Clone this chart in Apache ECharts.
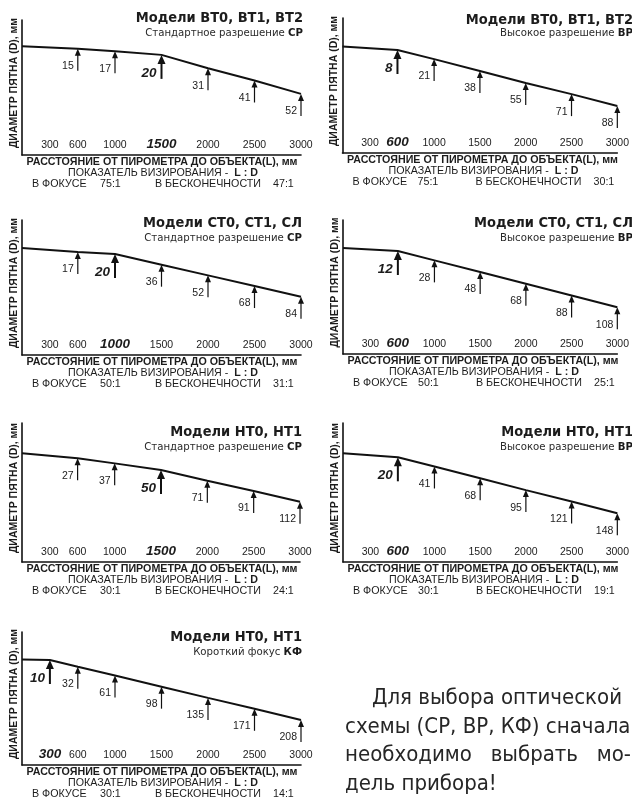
<!DOCTYPE html>
<html><head><meta charset="utf-8">
<script src="https://cdn.jsdelivr.net/npm/echarts@6/dist/echarts.min.js"></script>
<style>html,body{margin:0;padding:0;background:#fff}#c{width:632px;height:804px}</style>
</head><body><div id="c"></div>
<script>
// ---- data ----
const tickDistances = [300, 600, 1000, 1500, 2000, 2500, 3000];
const distStd = [600, 1000, 1500, 2000, 2500, 3000];
const distKF = [300, 600, 1000, 1500, 2000, 2500, 3000];
const diamBT_SP = [15, 17, 20, 31, 41, 52];
const diamBT_VR = [8, 21, 38, 55, 71, 88];
const diamCT_SP = [17, 20, 36, 52, 68, 84];
const diamCT_VR = [12, 28, 48, 68, 88, 108];
const diamHT_SP = [27, 37, 50, 71, 91, 112];
const diamHT_VR = [20, 41, 68, 95, 121, 148];
const diamHT_KF = [10, 32, 61, 98, 135, 171, 208];
const startDiam = [13, 3, 11, 7, 17, 11, 8];      // line start at L = 0 (estimated)
const focusDist = [1500, 600, 1000, 600, 1500, 600, 300];
const ratioFocus = ['75:1', '75:1', '50:1', '50:1', '30:1', '30:1', '30:1'];
const ratioInf = ['47:1', '30:1', '31:1', '25:1', '24:1', '19:1', '14:1'];
const modelTitles = ['Модели ВТ0, ВТ1, ВТ2', 'Модели ВТ0, ВТ1, ВТ2', 'Модели СТ0, СТ1, СЛ', 'Модели СТ0, СТ1, СЛ', 'Модели НТ0, НТ1', 'Модели НТ0, НТ1', 'Модели НТ0, НТ1'];
const modeNames = ['Стандартное разрешение', 'Высокое разрешение', 'Стандартное разрешение', 'Высокое разрешение', 'Стандартное разрешение', 'Высокое разрешение', 'Короткий фокус'];
const modeCodes = ['СР', 'ВР', 'СР', 'ВР', 'СР', 'ВР', 'КФ'];
const panelDist = [distStd, distStd, distStd, distStd, distStd, distStd, distKF];
const panelDiam = [diamBT_SP, diamBT_VR, diamCT_SP, diamCT_VR, diamHT_SP, diamHT_VR, diamHT_KF];
const noteLines = ['Для выбора оптической', 'схемы (СР, ВР, КФ) сначала', ['необходимо', 'выбрать', 'мо-'], 'дель прибора!'];

// ---- layout ----
const layout = [
  {left: 22, right: 331, top: 20, axisY: 155, yMin: -8.6, yMax: 102.1, titleX: 303, titleY: 18, subY: 33, col: 0},
  {left: 342.5, right: 12, top: 18, axisY: 153, yMin: -37.7, yMax: 155.1, titleX: 633, titleY: 20, subY: 33, col: 1},
  {left: 22, right: 331, top: 220, axisY: 355, yMin: -31, yMax: 171.4, titleX: 302, titleY: 223, subY: 238, col: 0},
  {left: 343, right: 12, top: 220, axisY: 354, yMin: -40.9, yMax: 187.8, titleX: 633, titleY: 223, subY: 238, col: 1},
  {left: 22, right: 332, top: 423, axisY: 562, yMin: -42, yMax: 230, titleX: 302, titleY: 432, subY: 447, col: 0},
  {left: 343, right: 12, top: 423, axisY: 562, yMin: -58.4, yMax: 259.3, titleX: 633, titleY: 432, subY: 447, col: 1},
  {left: 22, right: 331, top: 632, axisY: 765, yMin: -82.4, yMax: 356.5, titleX: 302, titleY: 637, subY: 652, col: 0}
];
const SANS = '"Liberation Sans", Arial, sans-serif';
const COND = '"DejaVu Sans Condensed", "Liberation Sans Narrow", "DejaVu Sans", sans-serif';
const INK = '#1c1c1c';

const grid = [], xAxis = [], yAxis = [], series = [], graphic = [];

function txt(x, y, text, font, align, extra) {
  const o = {type: 'text', x: x, y: y, silent: true,
    style: Object.assign({text: text, font: font, fill: INK, textAlign: align || 'left', align: align || 'left',
      textVerticalAlign: 'middle', verticalAlign: 'middle'}, extra || {})};
  return o;
}

function renderArrow(params, api) {
  const d = api.value(1), f = api.value(2);
  const p = api.coord([api.value(0), d]);
  const px = p[0], py = p[1];
  const len = f ? 24 : 22, hh = f ? 9 : 7, hw = f ? 4 : 3;
  return {type: 'group', children: [
    {type: 'line', shape: {x1: px, y1: py + hh - 1, x2: px, y2: py + len}, style: {stroke: '#111', lineWidth: f ? 2 : 1.2}},
    {type: 'polygon', shape: {points: [[px, py], [px - hw, py + hh], [px + hw, py + hh]]}, style: {fill: '#111'}},
    {type: 'text', x: px - (f ? 5 : 4), y: py + len + 1, style: {text: String(d),
      font: f ? 'italic bold 13.5px ' + SANS : '10.5px ' + SANS, fill: INK,
      textAlign: 'right', align: 'right', textVerticalAlign: 'bottom', verticalAlign: 'bottom'}}
  ]};
}

layout.forEach(function (L, i) {
  const focus = focusDist[i];
  grid.push({left: L.left, right: L.right, top: L.top, bottom: 804 - L.axisY, containLabel: false});
  xAxis.push({type: 'value', gridIndex: i, min: 0, max: 3000,
    axisLine: {show: true, onZero: false, lineStyle: {color: '#111', width: 1.6}},
    axisTick: {show: false}, splitLine: {show: false},
    axisLabel: {inside: true, margin: 4, customValues: tickDistances, color: INK, fontSize: 10.5, fontFamily: SANS,
      formatter: function (v) { return v === focus ? '{f|' + v + '}' : String(v); },
      rich: {f: {fontSize: 13.5, fontWeight: 'bold', fontStyle: 'italic', fontFamily: SANS, color: INK}}}
  });
  yAxis.push({type: 'value', gridIndex: i, inverse: true, min: L.yMin, max: L.yMax,
    axisLine: {show: true, onZero: false, lineStyle: {color: '#111', width: 1.6}},
    axisTick: {show: false}, splitLine: {show: false}, axisLabel: {show: false}});
  const dist = panelDist[i], diam = panelDiam[i];
  const lineData = [[0, startDiam[i]]].concat(dist.map(function (x, k) { return [x, diam[k]]; }));
  series.push({type: 'line', xAxisIndex: i, yAxisIndex: i, data: lineData, symbol: 'none', silent: true,
    lineStyle: {color: '#111', width: 2}, z: 3});
  series.push({type: 'custom', xAxisIndex: i, yAxisIndex: i, silent: true, z: 4, renderItem: renderArrow,
    data: dist.map(function (x, k) { return [x, diam[k], x === focus ? 1 : 0]; })});

  // texts
  graphic.push(txt(L.titleX, L.titleY, modelTitles[i], 'bold 14.5px ' + COND, 'right'));
  graphic.push(txt(L.titleX, L.subY, modeNames[i] + ' {b|' + modeCodes[i] + '}', '11.3px ' + COND, 'right',
    {fill: '#2a2a2a', rich: {b: {fontWeight: 'bold', fontSize: 11.3, fontFamily: COND, fill: '#1a1a1a', color: '#1a1a1a'}}}));
  graphic.push(Object.assign(txt(L.left - 8, (L.top + L.axisY) / 2 - 4.5, 'ДИАМЕТР ПЯТНА (D), мм', 'bold 10.5px ' + SANS, 'center'),
    {rotation: Math.PI / 2}));
  graphic.push(txt(L.left + 140, L.axisY + 7.5, 'РАССТОЯНИЕ ОТ ПИРОМЕТРА ДО ОБЪЕКТА(L), мм', 'bold 10.7px ' + SANS, 'center'));
  graphic.push(txt(L.left + 141, L.axisY + 18.5, 'ПОКАЗАТЕЛЬ ВИЗИРОВАНИЯ -  {b|L : D}', '10.7px ' + SANS, 'center',
    {rich: {b: {fontWeight: 'bold', fontSize: 10.7, fontFamily: SANS}}}));
  graphic.push(txt(L.left + 10, L.axisY + 29.5, 'В ФОКУСЕ', '10.7px ' + SANS, 'left'));
  graphic.push(txt(L.left + (L.col ? 75 : 78), L.axisY + 29.5, ratioFocus[i], '10.7px ' + SANS, 'left'));
  graphic.push(txt(L.left + 133, L.axisY + 29.5, 'В БЕСКОНЕЧНОСТИ', '10.7px ' + SANS, 'left'));
  graphic.push(txt(L.left + 251, L.axisY + 29.5, ratioInf[i], '10.7px ' + SANS, 'left'));
});

// note paragraph (justified third line)
const noteFont = '22px ' + COND;
const noteY = [698, 727, 755, 784];
const noteLeft = 345, noteRight = 631;
const mctx = document.createElement('canvas').getContext('2d');
mctx.font = noteFont;
const w3 = noteLines[2].map(function (w) { return mctx.measureText(w).width; });
const gap3 = (noteRight - noteLeft - w3[0] - w3[1] - w3[2]) / 2;
graphic.push(txt(372, noteY[0], noteLines[0], noteFont, 'left', {fill: '#262626'}));
graphic.push(txt(noteLeft, noteY[1], noteLines[1], noteFont, 'left', {fill: '#262626'}));
graphic.push(txt(noteLeft, noteY[2], noteLines[2][0], noteFont, 'left', {fill: '#262626'}));
graphic.push(txt(noteLeft + w3[0] + gap3, noteY[2], noteLines[2][1], noteFont, 'left', {fill: '#262626'}));
graphic.push(txt(noteRight, noteY[2], noteLines[2][2], noteFont, 'right', {fill: '#262626'}));
graphic.push(txt(noteLeft, noteY[3], noteLines[3], noteFont, 'left', {fill: '#262626'}));

const chart = echarts.init(document.getElementById('c'), null, {renderer: 'canvas'});
chart.setOption({backgroundColor: '#fff', animation: false, grid: grid, xAxis: xAxis, yAxis: yAxis, series: series, graphic: graphic});
</script></body></html>
